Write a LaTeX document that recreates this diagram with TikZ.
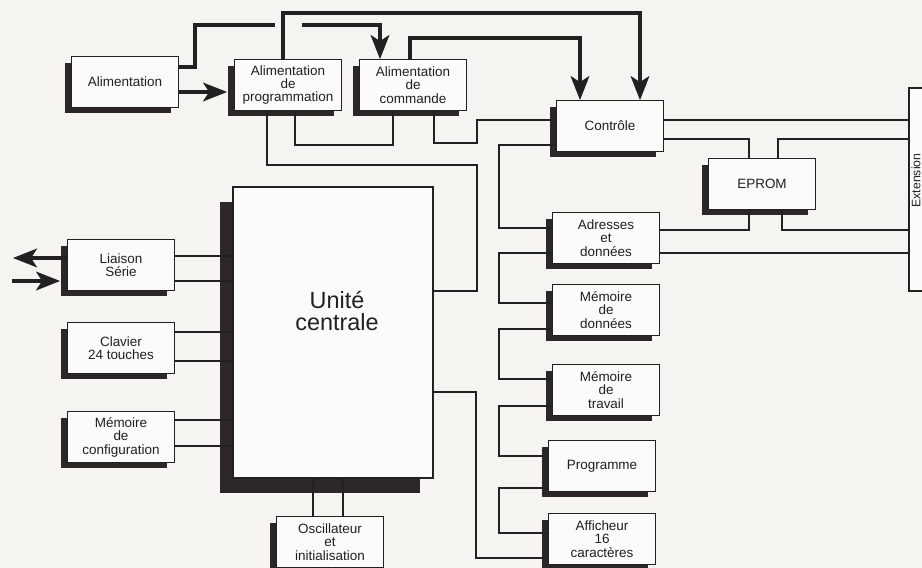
\documentclass[tikz,border=0pt]{standalone}
\usepackage{fontspec}
\setmainfont{Liberation Sans}
\usetikzlibrary{shadows,arrows.meta}
\definecolor{encre}{RGB}{35,32,32}
\definecolor{ombre}{RGB}{45,38,38}
\definecolor{papier}{RGB}{245,244,240}

\begin{document}
\begin{tikzpicture}[x=0.03cm,y=-0.03cm]
\tikzstyle{boite}=[rectangle,draw=encre,line width=0.9pt,fill=white!60!papier,align=center,text=encre,inner sep=1pt,font=\fontsize{11.5}{11.5}\selectfont]
\tikzstyle{bloc}=[boite,minimum width=3.2cm,minimum height=1.52cm,drop shadow={shadow xshift=-0.21cm,shadow yshift=-0.18cm,fill=ombre,opacity=1}]
\tikzstyle{gros}=[boite,minimum width=6cm,minimum height=8.73cm,drop shadow={shadow xshift=-0.39cm,shadow yshift=-0.45cm,fill=ombre,opacity=1}]
\tikzstyle{fil}=[draw=encre,line width=0.9pt]
\tikzstyle{bus}=[draw=encre,line width=3pt,-{Stealth[length=0.72cm,width=0.56cm,inset=0.18cm]}]

\useasboundingbox (0,0) rectangle (922,568);
\fill[papier] (0,0) rectangle (922,568);
\clip (0,0) rectangle (922,568);

% alimentations
\node[bloc] (alim) at (125,82) {Alimentation};
\node[bloc] (prog) at (288,85) {Alimentation\\de\\programmation};
\node[bloc] (cmd) at (413,85) {Alimentation\\de\\commande};

% colonne de droite
\node[bloc] (ctrl) at (610,126) {Contrôle};
\node[bloc] (eprom) at (762,184) {EPROM};
\node[bloc] (adr) at (606,238) {Adresses\\et\\données};
\node[bloc] (memd) at (606,310) {Mémoire\\de\\données};
\node[bloc] (memt) at (606,390) {Mémoire\\de\\travail};
\node[bloc] (prgm) at (602,466) {Programme};
\node[bloc] (aff) at (602,539) {Afficheur\\16\\caractères};
\node[boite,minimum width=0.42cm,minimum height=6.09cm,inner sep=0pt,font=\fontsize{10.5}{10.5}\selectfont] (ext) at (916,189.5) {\rotatebox{90}{\hspace{0.54cm}Extension}};

% colonne de gauche
\node[bloc] (ls) at (121,265) {Liaison\\Série};
\node[bloc] (clav) at (121,348) {Clavier\\24 touches};
\node[bloc] (mcfg) at (121,437) {Mémoire\\de\\configuration};
\node[bloc] (osc) at (330,542) {Oscillateur\\et\\initialisation};
\node[gros,label={[font=\fontsize{20}{19}\selectfont,align=center,text=encre,xshift=0.12cm,yshift=0.64cm]center:Unité\\centrale}] (uc) at (333,332.5) {};

\coordinate (txd) at (13,258);
\coordinate (rxd) at (12,281);

% liaisons de puissance
\draw[bus,shorten >=0.21cm] (alim.east |- 0,92) -- (prog.west |- 0,92);
\draw[bus] (alim.east |- 0,67) -| (195,25) -- (275,25) (302,25) -- (380,25) -- (cmd.north -| 380,0);
\draw[bus] (prog.north -| 283,0) -- (283,13) -| (ctrl.north -| 640,0);
\draw[bus] (cmd.north -| 410,0) -- (410,38) -| (ctrl.north -| 580,0);
\draw[bus] (ls.west |- 0,258) -- (txd);
\draw[bus,shorten >=0.21cm] (rxd) -- (ls.west |- 0,281);

% liaisons logiques
\draw[fil] (prog.south -| 295,0) -- (295,145) -| (cmd.south -| 393,0);
\draw[fil] (prog.south -| 267,0) -- (267,165) -| (477,291) -- (uc.east |- 0,291);
\draw[fil] (cmd.south -| 434,0) -- (434,143) -| (477,120) -- (ctrl.west |- 0,120);
\draw[fil] (ctrl.west |- 0,145) -| (499,228) -- (adr.west |- 0,228);
\draw[fil] (adr.west |- 0,253) -| (499,303) -- (memd.west |- 0,303);
\draw[fil] (memd.west |- 0,329) -| (499,379) -- (memt.west |- 0,379);
\draw[fil] (memt.west |- 0,406) -| (499,456) -- (prgm.west |- 0,456);
\draw[fil] (prgm.west |- 0,488) -| (499,533) -- (aff.west |- 0,533);
\draw[fil] (uc.east |- 0,392) -| (476,558) -- (aff.west |- 0,558);
\draw[fil] (ctrl.east |- 0,120) -- (ext.west |- 0,120);
\draw[fil] (ctrl.east |- 0,139) -| (eprom.north -| 749,0);
\draw[fil] (eprom.north -| 778,0) |- (ext.west |- 0,139);
\draw[fil] (eprom.south -| 749,0) |- (adr.east |- 0,230);
\draw[fil] (eprom.south -| 782,0) |- (ext.west |- 0,230);
\draw[fil] (adr.east |- 0,253) -- (ext.west |- 0,253);
\draw[fil] (ls.east |- 0,256) -- (uc.west |- 0,256);
\draw[fil] (ls.east |- 0,281) -- (uc.west |- 0,281);
\draw[fil] (clav.east |- 0,332) -- (uc.west |- 0,332);
\draw[fil] (clav.east |- 0,361) -- (uc.west |- 0,361);
\draw[fil] (mcfg.east |- 0,420) -- (uc.west |- 0,420);
\draw[fil] (mcfg.east |- 0,446) -- (uc.west |- 0,446);
\draw[fil] (uc.south -| 313,0) -- (osc.north -| 313,0);
\draw[fil] (uc.south -| 343,0) -- (osc.north -| 343,0);
\end{tikzpicture}
\end{document}
